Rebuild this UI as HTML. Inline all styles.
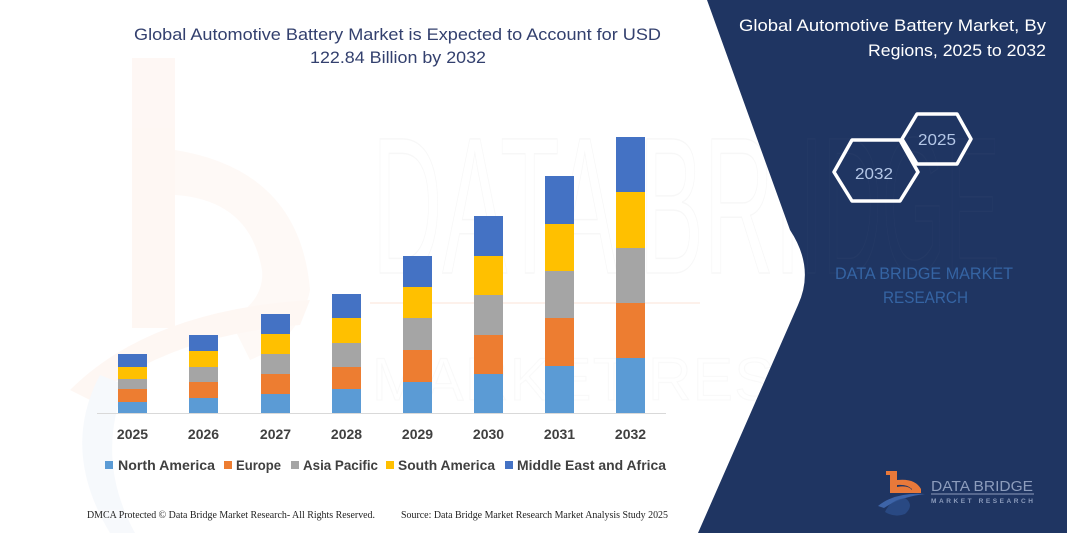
<!DOCTYPE html>
<html><head><meta charset="utf-8"><style>
html,body{margin:0;padding:0;background:#fff;}
svg{display:block;}
</style></head><body>
<svg width="1067" height="533" viewBox="0 0 1067 533" xmlns="http://www.w3.org/2000/svg">
<rect width="1067" height="533" fill="#ffffff"/>
<!-- faint watermark b -->
<g opacity="0.35">
<rect x="132" y="58" width="43" height="270" fill="#fde9df"/>
<path d="M175,150 Q300,170 310,290 Q300,340 250,360 L230,320 Q265,300 262,270 Q250,200 175,195 Z" fill="#fdeee6"/>
<path d="M70,390 Q150,310 310,300 L300,325 Q170,335 90,400 Z" fill="#fde9df"/>
<path d="M100,375 Q60,450 110,533 L135,533 Q95,460 125,385 Z" fill="#e8eef7"/>
</g>
<!-- faint big watermark text -->
<text x="372" y="273" font-family="Liberation Sans, sans-serif" font-size="195" fill="none" stroke="#000" stroke-opacity="0.03" stroke-width="1.5" textLength="640" lengthAdjust="spacingAndGlyphs">DATA BRIDGE</text>
<line x1="370" y1="303" x2="700" y2="303" stroke="#f6c9b0" stroke-opacity="0.25" stroke-width="2"/>
<text x="372" y="400" font-family="Liberation Sans, sans-serif" font-size="60" fill="none" stroke="#000" stroke-opacity="0.025" stroke-width="1.2" textLength="620" lengthAdjust="spacing">MARKET RESEARCH</text>

<!-- title -->
<text x="397.5" y="40" text-anchor="middle" font-family="Liberation Sans, sans-serif" font-size="17" fill="#33406e" textLength="527" lengthAdjust="spacingAndGlyphs">Global Automotive Battery Market is Expected to Account for USD</text>
<text x="398" y="63" text-anchor="middle" font-family="Liberation Sans, sans-serif" font-size="17" fill="#33406e" textLength="176" lengthAdjust="spacingAndGlyphs">122.84 Billion by 2032</text>

<!-- axis -->
<line x1="97" y1="413.5" x2="666" y2="413.5" stroke="#d9d9d9" stroke-width="1"/>

<!-- bars -->
<g>
<rect x="118" y="402" width="29" height="11" fill="#5b9bd5"/>
<rect x="118" y="389" width="29" height="13" fill="#ed7d31"/>
<rect x="118" y="379" width="29" height="10" fill="#a5a5a5"/>
<rect x="118" y="367" width="29" height="12" fill="#ffc000"/>
<rect x="118" y="354" width="29" height="13" fill="#4472c4"/>
<rect x="189" y="398" width="29" height="15" fill="#5b9bd5"/>
<rect x="189" y="382" width="29" height="16" fill="#ed7d31"/>
<rect x="189" y="367" width="29" height="15" fill="#a5a5a5"/>
<rect x="189" y="351" width="29" height="16" fill="#ffc000"/>
<rect x="189" y="335" width="29" height="16" fill="#4472c4"/>
<rect x="261" y="394" width="29" height="19" fill="#5b9bd5"/>
<rect x="261" y="374" width="29" height="20" fill="#ed7d31"/>
<rect x="261" y="354" width="29" height="20" fill="#a5a5a5"/>
<rect x="261" y="334" width="29" height="20" fill="#ffc000"/>
<rect x="261" y="314" width="29" height="20" fill="#4472c4"/>
<rect x="332" y="389" width="29" height="24" fill="#5b9bd5"/>
<rect x="332" y="367" width="29" height="22" fill="#ed7d31"/>
<rect x="332" y="343" width="29" height="24" fill="#a5a5a5"/>
<rect x="332" y="318" width="29" height="25" fill="#ffc000"/>
<rect x="332" y="294" width="29" height="24" fill="#4472c4"/>
<rect x="403" y="382" width="29" height="31" fill="#5b9bd5"/>
<rect x="403" y="350" width="29" height="32" fill="#ed7d31"/>
<rect x="403" y="318" width="29" height="32" fill="#a5a5a5"/>
<rect x="403" y="287" width="29" height="31" fill="#ffc000"/>
<rect x="403" y="256" width="29" height="31" fill="#4472c4"/>
<rect x="474" y="374" width="29" height="39" fill="#5b9bd5"/>
<rect x="474" y="335" width="29" height="39" fill="#ed7d31"/>
<rect x="474" y="295" width="29" height="40" fill="#a5a5a5"/>
<rect x="474" y="256" width="29" height="39" fill="#ffc000"/>
<rect x="474" y="216" width="29" height="40" fill="#4472c4"/>
<rect x="545" y="366" width="29" height="47" fill="#5b9bd5"/>
<rect x="545" y="318" width="29" height="48" fill="#ed7d31"/>
<rect x="545" y="271" width="29" height="47" fill="#a5a5a5"/>
<rect x="545" y="224" width="29" height="47" fill="#ffc000"/>
<rect x="545" y="176" width="29" height="48" fill="#4472c4"/>
<rect x="616" y="358" width="29" height="55" fill="#5b9bd5"/>
<rect x="616" y="303" width="29" height="55" fill="#ed7d31"/>
<rect x="616" y="248" width="29" height="55" fill="#a5a5a5"/>
<rect x="616" y="192" width="29" height="56" fill="#ffc000"/>
<rect x="616" y="137" width="29" height="55" fill="#4472c4"/>
</g>

<!-- year labels -->
<g font-family="Liberation Sans, sans-serif" font-size="14" font-weight="bold" fill="#404040" text-anchor="middle">
<text x="132.5" y="439">2025</text>
<text x="203.5" y="439">2026</text>
<text x="275.5" y="439">2027</text>
<text x="346.5" y="439">2028</text>
<text x="417.5" y="439">2029</text>
<text x="488.5" y="439">2030</text>
<text x="559.5" y="439">2031</text>
<text x="630.5" y="439">2032</text>
</g>

<!-- legend -->
<g font-family="Liberation Sans, sans-serif" font-size="14" font-weight="bold" fill="#404040">
<rect x="105" y="461" width="8" height="8" fill="#5b9bd5"/>
<text x="118" y="470" textLength="97" lengthAdjust="spacingAndGlyphs">North America</text>
<rect x="224" y="461" width="8" height="8" fill="#ed7d31"/>
<text x="236" y="470" textLength="45" lengthAdjust="spacingAndGlyphs">Europe</text>
<rect x="291" y="461" width="8" height="8" fill="#a5a5a5"/>
<text x="303" y="470" textLength="75" lengthAdjust="spacingAndGlyphs">Asia Pacific</text>
<rect x="386" y="461" width="8" height="8" fill="#ffc000"/>
<text x="398" y="470" textLength="97" lengthAdjust="spacingAndGlyphs">South America</text>
<rect x="505" y="461" width="8" height="8" fill="#4472c4"/>
<text x="517" y="470" textLength="149" lengthAdjust="spacingAndGlyphs">Middle East and Africa</text>
</g>

<!-- footer -->
<g font-family="Liberation Serif, serif" font-size="10.5" fill="#222">
<text x="87" y="518" textLength="288" lengthAdjust="spacingAndGlyphs">DMCA Protected © Data Bridge Market Research-  All Rights Reserved.</text>
<text x="401" y="518" textLength="267" lengthAdjust="spacingAndGlyphs">Source: Data Bridge Market Research  Market Analysis Study 2025</text>
</g>

<!-- dark panel -->
<path d="M707,0 L1067,0 L1067,533 L698,533 L798,305 Q815,268 790,230 Z" fill="#1f3562"/>
<text x="800" y="273" font-family="Liberation Sans, sans-serif" font-size="195" fill="none" stroke="#ffffff" stroke-opacity="0.025" stroke-width="1.5" textLength="200" lengthAdjust="spacingAndGlyphs">IDGE</text>

<!-- right title -->
<g font-family="Liberation Sans, sans-serif" font-size="17" fill="#ffffff" text-anchor="end">
<text x="1046" y="31" textLength="307" lengthAdjust="spacingAndGlyphs">Global Automotive Battery Market, By</text>
<text x="1046" y="56" textLength="178" lengthAdjust="spacingAndGlyphs">Regions, 2025 to 2032</text>
</g>

<!-- hexagons -->
<polygon points="902,139 917,114 957,114 971,139 957,164 917,164" fill="none" stroke="#ffffff" stroke-width="3.5" stroke-linejoin="round"/>
<polygon points="834,172 852,140 900,140 918,172 900,201 852,201" fill="none" stroke="#ffffff" stroke-width="3.5" stroke-linejoin="round"/>
<g font-family="Liberation Sans, sans-serif" font-size="16" fill="#b4c7e7" text-anchor="middle">
<text x="937" y="145" textLength="38" lengthAdjust="spacingAndGlyphs">2025</text>
<text x="874" y="179" textLength="38" lengthAdjust="spacingAndGlyphs">2032</text>
</g>

<!-- DBMR text -->
<g font-family="Liberation Sans, sans-serif" font-size="17" fill="#3564a3" text-anchor="middle">
<text x="924" y="279" textLength="178" lengthAdjust="spacingAndGlyphs">DATA BRIDGE MARKET</text>
<text x="925.5" y="303" textLength="85" lengthAdjust="spacingAndGlyphs">RESEARCH</text>
</g>

<!-- logo -->
<g>
<path d="M878,506 Q895,492 925,494 Q900,497 884,508 Z" fill="#3d64a8"/>
<path d="M885,512 Q890,500 905,498 Q915,505 905,514 Q895,518 885,512 Z" fill="#2c4f8c" opacity="0.8"/>
<rect x="890" y="471" width="7" height="22" fill="#e8793a"/>
<path d="M897,480 Q915,478 921,489 L921,493 L897,493 L897,487 Q908,485 912,490 L912,489 Q907,484 897,485 Z" fill="#e8793a"/>
<rect x="886" y="471" width="8" height="4" fill="#e8793a"/>
<text x="931" y="491" font-family="Liberation Sans, sans-serif" font-size="15" fill="#8c9cbc" textLength="102" lengthAdjust="spacingAndGlyphs">DATA BRIDGE</text>
<line x1="931" y1="494" x2="1034" y2="494" stroke="#8c9cbc" stroke-width="1"/>
<text x="931" y="503" font-family="Liberation Sans, sans-serif" font-size="6.5" font-weight="bold" fill="#8c9cbc" textLength="102" lengthAdjust="spacing">MARKET RESEARCH</text>
</g>
</svg>
</body></html>
